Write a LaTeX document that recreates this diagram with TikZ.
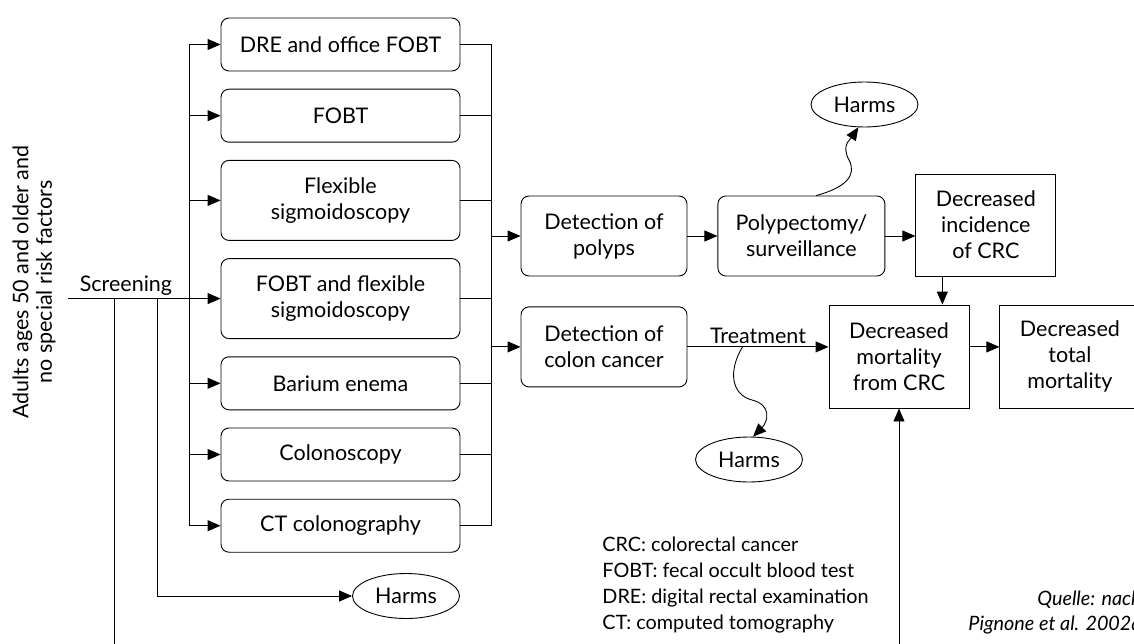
\documentclass[tikz,border=0pt]{standalone}
\usepackage{fontspec}
\setmainfont{Lato}
\usetikzlibrary{positioning,calc,arrows.meta,shapes.geometric}

\tikzset{
  rbox/.style={draw, rounded corners=8pt, align=center, inner sep=0pt},
  testbox/.style={rbox, minimum width=239pt, minimum height=53pt},
  sqbox/.style={draw, align=center, inner sep=0pt, minimum width=140pt, minimum height=103pt},
  harms/.style={draw, ellipse, inner sep=0pt, minimum width=107pt, minimum height=45pt},
}

\begin{document}
\begin{tikzpicture}[x=1pt, y=-1pt, line width=0.9pt, >={Triangle[length=13pt,width=11pt]},
    font=\fontsize{21.5}{26}\selectfont, node distance=17.3pt]
  \useasboundingbox (0,0) rectangle (1134,644);
  \clip (0,0) rectangle (1134,644);

  % screening tests
  \node[testbox] (dre) at (340.5,44.5) {DRE and office FOBT};
  \node[testbox, below=of dre] (fobt) {FOBT};
  \node[testbox, below=of fobt, minimum height=80pt] (flex) {Flexible\\sigmoidoscopy};
  \node[testbox, below=of flex, minimum height=80pt] (fobtflex) {FOBT and flexible\\sigmoidoscopy};
  \node[testbox, below=of fobtflex] (barium) {Barium enema};
  \node[testbox, below=of barium] (colo) {Colonoscopy};
  \node[testbox, below=of colo] (ctc) {CT colonography};

  \node[rotate=90, align=center, font=\fontsize{21.5}{23.5}\selectfont] (pop) at (34,282)
    {Adults ages 50 and older and\\no special risk factors};

  % outcomes
  \node[rbox, minimum width=166pt, minimum height=80pt] (detp) at (604,236) {Detection of\\polyps};
  \node[rbox, minimum width=166pt, minimum height=80pt, below=30pt of detp] (detc) {Detection of\\colon cancer};
  \node[rbox, minimum width=167pt, minimum height=80pt, right=30pt of detp] (poly) {Polypectomy/\\surveillance};
  \node[sqbox, minimum height=102pt, right=30pt of poly, yshift=11pt] (inc) {Decreased\\incidence\\of CRC};
  \node[sqbox] (mort) at (899,356.5) {Decreased\\mortality\\from CRC};
  \node[sqbox, right=30pt of mort] (total) {Decreased\\total\\mortality};

  \node[harms] (harmA) at (864.5,104.5) {Harms};
  \node[harms] (harmB) at (749,459.5) {Harms};
  \node[harms] (harmC) at (406,596) {Harms};

  \node[anchor=north west, align=left, inner sep=0pt, font=\fontsize{19.8}{26}\selectfont] (legend) at (602,536)
    {CRC: colorectal cancer\\FOBT: fecal occult blood test\\DRE: digital rectal examination\\CT: computed tomography};
  \node[anchor=north east, align=right, inner sep=0pt, font=\fontsize{19.8}{25}\selectfont\itshape] (src) at (1142,590)
    {Quelle: nach\\Pignone et al. 2002a};

  % buses
  \coordinate (scr) at (68,0);
  \coordinate (b1) at (114,0);
  \coordinate (b2) at (157,0);
  \coordinate (lb) at (189,0);
  \coordinate (rb) at (491,0);

  \draw[->] (scr |- fobtflex.west) -- node[above, inner sep=3pt, pos=0.38] {Screening} (fobtflex.west);
  \draw[->] (b1 |- fobtflex.west) -- ++(0,500) -| (mort.south);
  \draw[->] (b2 |- fobtflex.west) |- (harmC.west);

  \draw (lb |- dre.west) -- (lb |- ctc.west);
  \draw (rb |- dre.east) -- (rb |- ctc.east);
  \foreach \n in {dre,fobt,flex,barium,colo,ctc}
    \draw[->] (lb |- \n.west) -- (\n.west);
  \foreach \n in {dre,fobt,flex,fobtflex,barium,colo,ctc}
    \draw (\n.east) -- (rb |- \n.east);

  \draw[->] (rb |- detp.west) -- (detp.west);
  \draw[->] (rb |- detc.west) -- (detc.west);
  \draw[->] (detp) -- (poly);
  \draw[->] (poly.east) -- (poly.east -| inc.west);
  \draw[->] (detc.east) -- coordinate[pos=0.39] (tr) node[above, inner sep=3pt] {Treatment} (detc.east -| mort.west);
  \draw[->] (mort.east |- detc.east) -- (total.west |- detc.east);
  \coordinate (incd) at ($(inc.south west)+(27,0)$);
  \draw[->] (incd) -- (incd |- mort.north);

  % harms
  \coordinate (wa) at (849,160);
  \draw[->] (poly.70) .. controls +(30,-8) and +(8,15) .. (wa) .. controls +(-8,-15) and +(-8,12) .. (harmA.255);
  \coordinate (wb) at (752,400);
  \draw[->] (tr) .. controls +(-15,25) and +(-20,-5) .. (wb) .. controls +(20,5) and +(15,-15) .. (harmB.80);
\end{tikzpicture}
\end{document}
